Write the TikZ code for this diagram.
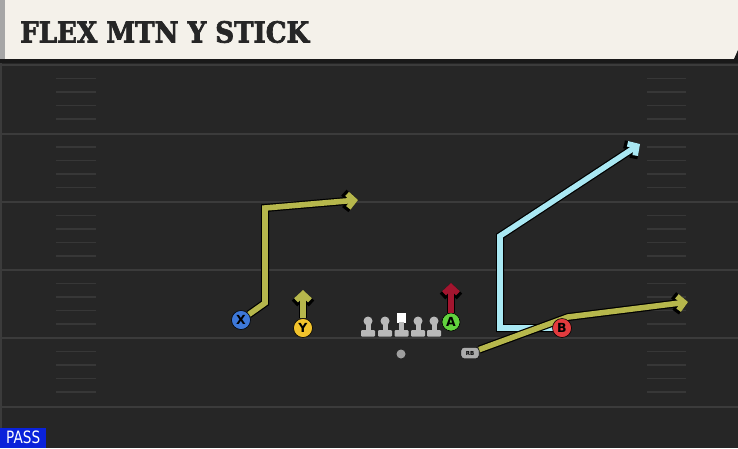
\documentclass[tikz,border=0pt]{standalone}
\usepackage{fontspec}
\usetikzlibrary{arrows.meta,positioning}
\newfontfamily\titlefont{DejaVu Serif}[BoldFeatures={FakeBold=2.5}]
\newfontfamily\labelfont{DejaVu Sans}
\definecolor{cream}{HTML}{F4F1EA}
\definecolor{turf}{HTML}{262626}
\definecolor{chalk}{HTML}{3B3B3B}
\definecolor{olive}{HTML}{B6B74C}
\definecolor{ice}{HTML}{A9E8F3}
\definecolor{crimson}{HTML}{A3152F}
\definecolor{xblue}{HTML}{3D78D8}
\definecolor{yyellow}{HTML}{F2C32C}
\definecolor{agreen}{HTML}{62D23E}
\definecolor{bred}{HTML}{E23B3E}
\definecolor{linegray}{HTML}{B9B9B9}
\definecolor{passblue}{HTML}{0A22DA}

\begin{document}
\begin{tikzpicture}[x=1pt,y=-1pt,
  player/.style = {draw=black, line width=0.6pt, circle, minimum size=19pt, inner sep=0pt,
                   font=\labelfont\bfseries\fontsize{12.5}{12.5}\selectfont},
  lineman/.style = {fill=linegray},
  outline/.style = {draw=black, line width=8pt, line join=miter},
  route/.style = {line width=5.6pt, line join=miter},
  tipout/.style = {-{Straight Barb[length=8pt,width=17pt]}},
  tipin/.style = {-{Straight Barb[length=6.5pt,width=14pt]}}]
  \useasboundingbox (0,0) rectangle (738,448);
  % field
  \fill[turf] (0,59) rectangle (738,448);
  \fill[chalk] (0,59) rectangle (2,448);
  \foreach \y in {65,133.5,202,270,338,407}
    \draw[chalk, line width=2pt] (0,\y) -- (738,\y);
  \foreach \y in {65,133.5,202,270,338}
    \foreach \d in {13.5,27,40.5,54}{
      \draw[chalk!80!turf, line width=1.5pt] (56,\y+\d) -- (96,\y+\d);
      \draw[chalk!80!turf, line width=1.5pt] (647,\y+\d) -- (686,\y+\d);
    }
  % header
  \fill[cream] (0,0) rectangle (738,59);
  \fill[gray!70] (0,0) rectangle (5,59);
  \fill[black!90] (0,59) rectangle (738,63);
  \fill[black!90] (734,59) -- (738,50) -- (738,59) -- cycle;
  \node[anchor=west, inner sep=0pt, font=\titlefont\bfseries\fontsize{29}{29}\selectfont,
        text=black!85] (title) at (20,32) {\scalebox{0.9}[1]{FLEX MTN Y STICK}};
  \node[fill=passblue, text=white, anchor=south west, minimum width=46pt, minimum height=20pt,
        inner sep=0pt, font=\labelfont\fontsize{17}{17}\selectfont] (pass) at (0,448)
        {\scalebox{0.8}[1]{PASS}};

  % offensive line
  \foreach \x/\n in {368/lt,385/lg,418/rg,434/rt}{
    \fill[lineman] (\x,321) circle (4.5pt);
    \fill[lineman] (\x-2.5,322) rectangle (\x+2.5,331);
    \fill[lineman, rounded corners=1pt] (\x-7,330) rectangle (\x+7,336.5);
    \coordinate (\n) at (\x,321);
  }
  \fill[white] (397,313) rectangle (406,323);
  \fill[lineman] (399,322) rectangle (404,331);
  \fill[lineman, rounded corners=1pt] (394.5,330) rectangle (408.5,336.5);
  \node[fill=gray!75, circle, inner sep=0pt, minimum size=9pt] (qb) at (401,354) {};

  % skill players
  \node[player, fill=xblue] (X) at (241,320) {X};
  \node[player, fill=yyellow] (Y) at (303,328) {Y};
  \node[player, fill=agreen, minimum size=18pt] (A) at (451,322) {A};
  \node[draw=black, fill=gray!65, rounded corners=3pt, minimum width=18pt, minimum height=11pt,
        inner sep=0pt, font=\labelfont\bfseries\fontsize{5.5}{5.5}\selectfont] (RB) at (470,353) {RB};
  \coordinate (pB) at (562,328);

  % route points
  \coordinate (x1) at (265,303);
  \coordinate (x2) at (265,208);
  \coordinate (x3) at (358,200);
  \coordinate (y1) at (303,290);
  \coordinate (a1) at (451,283);
  \coordinate (b1) at (500,328);
  \coordinate (b2) at (500,236);
  \coordinate (b3) at (640,144);
  \coordinate (r1) at (568,317);
  \coordinate (r2) at (688,302);

  % routes
  \draw[outline, tipout] (X) -- (x1) -- (x2) -- (x3);
  \draw[route, olive, tipin] (X) -- (x1) -- (x2) -- (x3);
  \draw[outline, tipout] (Y) -- (y1);
  \draw[route, olive, tipin] (Y) -- (y1);
  \draw[outline, tipout] (A) -- (a1);
  \draw[route, crimson, tipin] (A) -- (a1);
  \draw[outline, tipout] (pB) -- (b1) -- (b2) -- (b3);
  \draw[route, ice, tipin] (pB) -- (b1) -- (b2) -- (b3);
  \draw[outline, tipout] (RB) -- (r1) -- (r2);
  \draw[route, olive, tipin] (RB) -- (r1) -- (r2);
  \node[player, fill=bred] (B) at (pB) {B};
\end{tikzpicture}
\end{document}
